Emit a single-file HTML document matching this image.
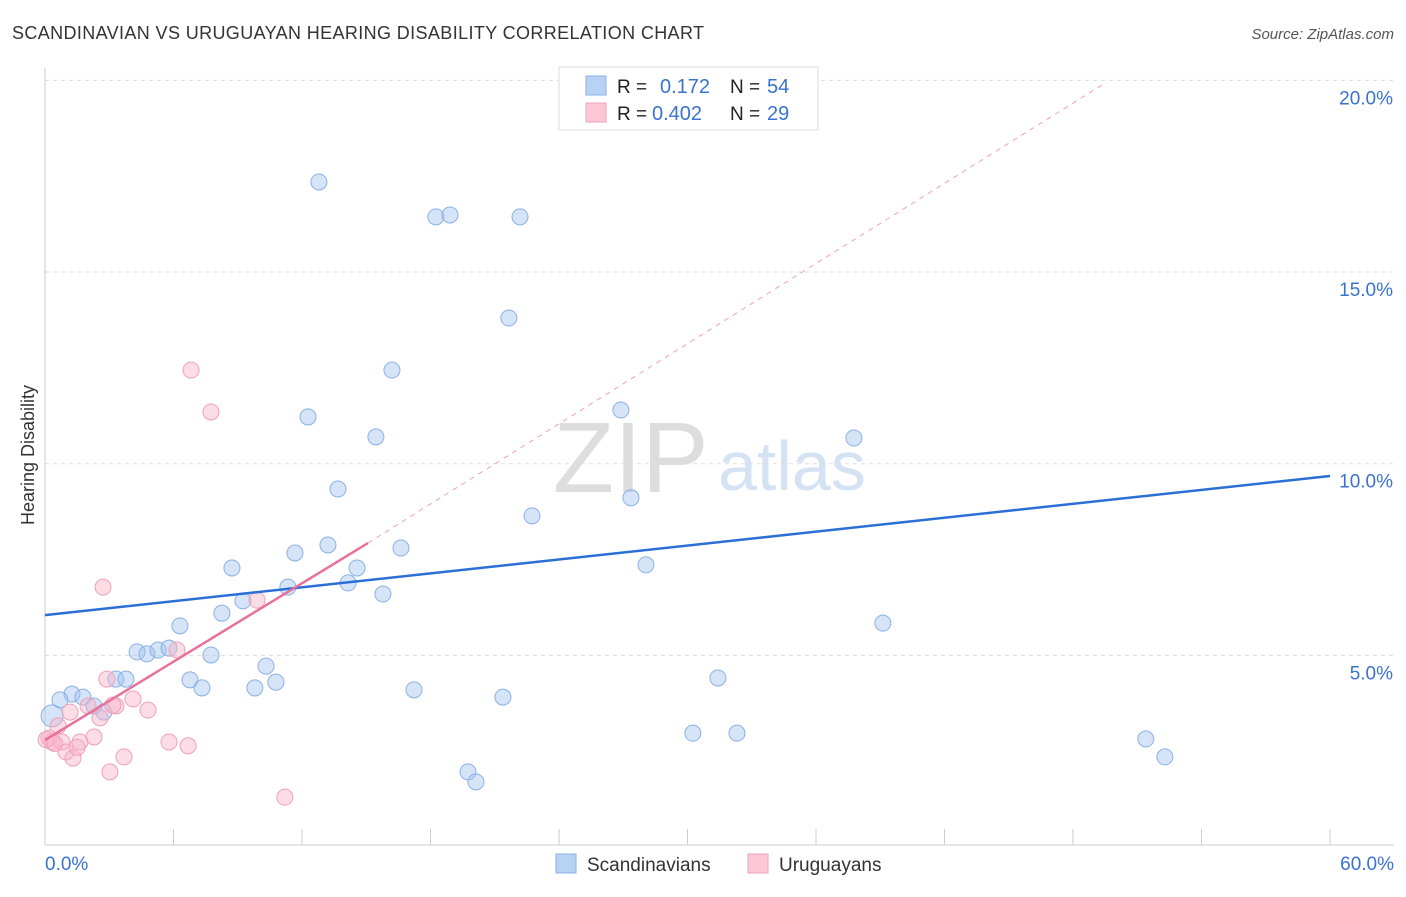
<!DOCTYPE html>
<html><head><meta charset="utf-8"><style>
body{margin:0;background:#fff;font-family:"Liberation Sans",sans-serif}
svg text{font-family:"Liberation Sans",sans-serif}
</style></head><body>
<svg id="c" width="1406" height="892" xmlns="http://www.w3.org/2000/svg">
<text x="12" y="39" font-size="18" fill="#333" textLength="692">SCANDINAVIAN VS URUGUAYAN HEARING DISABILITY CORRELATION CHART</text>
<text x="1394" y="39" font-size="15" fill="#555" font-style="italic" text-anchor="end">Source: ZipAtlas.com</text>
<text x="553" y="492" font-size="100" fill="#ddd" font-family="Liberation Serif">ZIP</text>
<text x="718" y="490" font-size="70" fill="#d4e2f4">atlas</text>
<text transform="translate(34,455) rotate(-90)" font-size="18" fill="#333" text-anchor="middle">Hearing Disability</text>
<g id="grid"></g><g id="marks"></g>
<g>
<rect x="559" y="67" width="259" height="63" fill="#fff" stroke="#ddd"/>
<rect x="586" y="76" width="20" height="19" fill="#b8d2f4" stroke="#8ab0e8"/>
<rect x="586" y="103" width="20" height="19" fill="#fcc8d6" stroke="#f0a0b8"/>
<text x="617" y="93" font-size="19" fill="#222">R = </text><text x="660" y="93" font-size="20" fill="#3a72d0">0.172</text>
<text x="730" y="93" font-size="19" fill="#222">N = </text><text x="767" y="93" font-size="20" fill="#3a72d0">54</text>
<text x="617" y="120" font-size="19" fill="#222">R = </text><text x="652" y="120" font-size="20" fill="#3a72d0">0.402</text>
<text x="730" y="120" font-size="19" fill="#222">N = </text><text x="767" y="120" font-size="20" fill="#3a72d0">29</text>
</g>
<g>
<rect x="556" y="854" width="20" height="19" fill="#b8d2f4" stroke="#8ab0e8"/>
<text x="587" y="871" font-size="19" fill="#333">Scandinavians</text>
<rect x="748" y="854" width="20" height="19" fill="#fcc8d6" stroke="#f0a0b8"/>
<text x="779" y="871" font-size="19" fill="#333">Uruguayans</text>
</g>
</svg>
<script>
const yTicks=[5,10,15,20];
const yTickLabels=["5.0%","10.0%","15.0%","20.0%"];
const xEndLabels=["0.0%","60.0%"];
const blueX=[12.79,18.25,18.91,22.18,21.66,16.20,12.28,26.89,15.45,37.77,13.68,27.36,22.74,13.21,16.62,11.67,8.73,28.06,14.57,14.15,11.34,15.78,9.24,8.26,39.12,6.30,4.30,4.76,5.28,5.79,7.75,10.32,6.77,7.33,10.78,9.80,17.23,3.31,3.78,31.42,21.38,1.26,1.77,0.70,2.29,2.75,0.33,30.25,32.31,51.40,52.29,19.75,20.12,33.38];
const blueY=[17.35,16.44,16.49,16.44,13.80,12.44,11.22,11.40,10.70,10.67,9.34,9.11,8.64,7.88,7.80,7.67,7.28,7.36,7.28,6.89,6.78,6.60,6.42,6.10,5.84,5.77,5.09,5.04,5.14,5.19,5.01,4.72,4.36,4.15,4.30,4.15,4.10,4.38,4.38,4.41,3.91,3.99,3.91,3.84,3.68,3.52,3.42,2.97,2.97,2.82,2.35,1.96,1.70,20.01];
const pinkX=[6.82,7.75,2.71,9.90,6.16,2.89,4.11,2.01,3.31,4.81,1.17,2.57,0.61,0.19,0.79,1.63,2.29,5.79,6.68,0.98,1.31,3.69,3.03,11.20,0.33,3.17,0.05,0.45,1.5];
const pinkY=[12.44,11.35,6.78,6.44,5.14,4.38,3.86,3.68,3.68,3.57,3.52,3.37,3.16,2.84,2.74,2.74,2.87,2.74,2.64,2.48,2.32,2.35,1.96,1.30,2.74,3.70,2.80,2.70,2.60];
const blueLine=[6.05,9.68];
const pinkLine=[2.79,7.93];
const pinkEnd=[15.08,49.5,19.93];
const X=v=>45+v*21.417, Y=v=>847-v*38.33;
const NS="http://www.w3.org/2000/svg";
const g=document.getElementById('grid'), m=document.getElementById('marks');
function el(t,a,p){const e=document.createElementNS(NS,t);for(const k in a)e.setAttribute(k,a[k]);p.appendChild(e);return e;}
yTicks.forEach((t,i)=>{
 const l=el('line',{x1:45,x2:1394,y1:Y(t),y2:Y(t),stroke:'#ddd','stroke-dasharray':'4,4'},g);
 
 
 const tx=el('text',{x:1393,y:Y(t)+24,'font-size':19,fill:'#3a72d0','text-anchor':'end'},g);tx.textContent=yTickLabels[i];
 
 
});
const ax=el('line',{x1:45,x2:1394,y1:845,y2:845,stroke:'#ccc'},g);


const ay=el('line',{x1:45,x2:45,y1:68,y2:845,stroke:'#ccc'},g);


for(let i=0;i<=10;i++){const t=el('line',{x1:X(i*6),x2:X(i*6),y1:829,y2:845,stroke:'#ccc'},g);
 
 }
[[0,xEndLabels[0],'start',45],[60,xEndLabels[1],'end',1394]].forEach(a=>{const t=el('text',{x:a[3],y:870,'font-size':19,fill:'#3a72d0','text-anchor':a[2]},g);t.textContent=a[1];
 
 });
blueX.forEach((x,i)=>{const c=el('circle',{cx:X(x),cy:Y(blueY[i]),r:i==46?11:8,fill:'rgba(164,196,240,0.45)',stroke:'#8ab0e8','stroke-width':1},m);
 
 });
pinkX.forEach((x,i)=>{const c=el('circle',{cx:X(x),cy:Y(pinkY[i]),r:8,fill:'rgba(248,180,200,0.45)',stroke:'#f0a0b8','stroke-width':1},m);
 
 });
const bl=el('line',{x1:X(0),y1:Y(blueLine[0]),x2:X(60),y2:Y(blueLine[1]),stroke:'#2a6fd6','stroke-width':2.5},m);


const pd=el('line',{x1:X(pinkEnd[0]),y1:Y(pinkLine[1]),x2:X(pinkEnd[1]),y2:Y(pinkEnd[2]),stroke:'#f0a0b8','stroke-width':1,'stroke-dasharray':'5,5'},m);


const pl=el('line',{x1:X(0),y1:Y(pinkLine[0]),x2:X(pinkEnd[0]),y2:Y(pinkLine[1]),stroke:'#e8709a','stroke-width':2.5},m);


</script>
</body></html>
